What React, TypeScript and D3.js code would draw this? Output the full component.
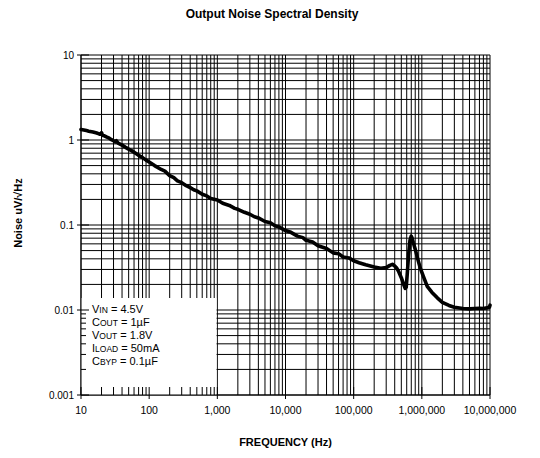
import React from "react";
import * as d3 from "d3";

const freqHz: number[] = [
  10, 11, 12, 13, 15, 17, 18, 19, 20, 20.5, 21, 22, 24, 26, 28, 30, 32, 33, 35, 38, 40, 45, 50, 55, 60, 65, 70, 80, 90,
  100, 120, 150, 170, 200, 230, 260, 300, 350, 400, 450, 500, 600, 700, 800, 1000, 1200, 1500, 1800, 2000, 2500,
  3000, 3500, 4000, 5000, 6000, 7000, 8000, 10000, 12000, 15000, 18000, 20000, 25000, 30000, 40000, 50000, 60000,
  70000, 85000, 100000, 120000, 150000, 200000, 250000, 300000, 340000, 370000, 400000, 430000, 460000, 500000,
  540000, 570000, 590000, 610000, 640000, 670000, 700000, 720000, 750000, 800000, 870000, 950000, 1050000,
  1200000, 1400000, 1700000, 2000000, 2500000, 3000000, 4000000, 5000000, 6000000, 7000000, 8000000, 9000000,
  9800000, 10000000,
];

const noiseUV: number[] = [
  1.33, 1.31, 1.29, 1.27, 1.24, 1.21, 1.19, 1.17, 1.22, 1.16, 1.13, 1.12, 1.08, 1.05, 1.01, 0.98, 0.95, 0.98, 0.92,
  0.89, 0.87, 0.82, 0.78, 0.75, 0.72, 0.69, 0.66, 0.62, 0.58,
  0.55, 0.5, 0.45, 0.43, 0.38, 0.36, 0.33, 0.315, 0.29, 0.275, 0.26, 0.252, 0.23, 0.22, 0.205, 0.197, 0.18,
  0.17, 0.157, 0.153, 0.141,
  0.134, 0.125, 0.121, 0.11, 0.106, 0.098, 0.095, 0.086, 0.082, 0.074, 0.071, 0.066, 0.063, 0.057, 0.053, 0.047,
  0.046, 0.042, 0.041, 0.038, 0.036, 0.034, 0.032, 0.031, 0.0315, 0.0335, 0.0345, 0.033, 0.031, 0.028, 0.024,
  0.02, 0.018, 0.0185, 0.026, 0.045, 0.066, 0.074, 0.07, 0.062, 0.052, 0.04, 0.031, 0.025,
  0.019, 0.0162, 0.0138, 0.0123, 0.0113, 0.0108, 0.0104, 0.0103, 0.0104, 0.0105, 0.0104, 0.0106,
  0.0108, 0.0114,
];

const xTickValues: number[] = [10, 100, 1000, 10000, 100000, 1000000, 10000000];
const xTickLabels: string[] = ["10", "100", "1,000", "10,000", "100,000", "1,000,000", "10,000,000"];
const yTickValues: number[] = [0.001, 0.01, 0.1, 1, 10];
const yTickLabels: string[] = ["0.001", "0.01", "0.1", "1", "10"];

const legendMain: string[] = ["V", "C", "V", "I", "C"];
const legendSub: string[] = ["IN", "OUT", "OUT", "LOAD", "BYP"];
const legendValue: string[] = [" = 4.5V", " = 1µF", " = 1.8V", " = 50mA", " = 0.1µF"];

const titleText = "Output Noise Spectral Density";
const xTitle = "FREQUENCY (Hz)";
const yTitle = "Noise uV/\u221AHz";

const W = 540;
const H = 458;
const L = 81;
const R = 490;
const T = 55;
const B = 395;
const FONT = "Arial, 'Liberation Sans', Helvetica, sans-serif";

export default function App() {
  const x = d3.scaleLog().domain([10, 1e7]).range([L, R]);
  const y = d3.scaleLog().domain([0.001, 10]).range([B, T]);

  const vGrid: number[] = [];
  for (let e = 1; e < 7; e++) for (let k = 1; k < 10; k++) vGrid.push(k * Math.pow(10, e));
  vGrid.push(1e7);
  const hGrid: number[] = [];
  for (let e = -3; e < 1; e++) for (let k = 1; k < 10; k++) hGrid.push(k * Math.pow(10, e));
  hGrid.push(10);

  const boxRight = x(1000);
  const boxTop = 298;

  const minorX = vGrid.filter((v) => v < 1000 && ![10, 100].includes(v));
  const minorY = hGrid.filter((v) => v < 0.01 && v > 0.001);

  const pts: [number, number][] = freqHz.map((f, i) => [f, noiseUV[i]]);
  const line = d3
    .line<[number, number]>()
    .x((d) => x(d[0]))
    .y((d) => y(d[1]));

  return (
    <svg width={W} height={H} style={{ position: "absolute", left: 0, top: 0, background: "#fff" }} fontFamily={FONT}>
      <text x={272} y={18} textAnchor="middle" fontSize={12} fontWeight="bold">
        {titleText}
      </text>
      {vGrid.map((v, i) => (
        <line key={"v" + i} x1={x(v)} x2={x(v)} y1={T} y2={B} stroke="#000" strokeWidth={1} />
      ))}
      {hGrid.map((v, i) => (
        <line key={"h" + i} x1={L} x2={R} y1={y(v)} y2={y(v)} stroke="#000" strokeWidth={1} />
      ))}
      <rect x={L} y={boxTop} width={boxRight - L - 0.8} height={B - boxTop} fill="#fff" />
      {minorX.map((v, i) => (
        <line key={"mx" + i} x1={x(v)} x2={x(v)} y1={B - 8} y2={B} stroke="#000" strokeWidth={1} />
      ))}
      {minorY.map((v, i) => (
        <line key={"my" + i} x1={L} x2={L + 5} y1={y(v)} y2={y(v)} stroke="#000" strokeWidth={1} />
      ))}
      <line x1={L} x2={L} y1={T} y2={B} stroke="#000" strokeWidth={1} />
      <line x1={L} x2={R} y1={B} y2={B} stroke="#000" strokeWidth={1} />
      {xTickValues.map((v, i) => (
        <g key={"xt" + i}>
          <line x1={x(v)} x2={x(v)} y1={B - 8} y2={B + 4} stroke="#000" strokeWidth={1} />
          <text x={x(v)} y={B + 19} textAnchor="middle" fontSize={10.5}>
            {xTickLabels[i]}
          </text>
        </g>
      ))}
      {yTickValues.map((v, i) => (
        <g key={"yt" + i}>
          <line x1={L - 4} x2={L + 8} y1={y(v)} y2={y(v)} stroke="#000" strokeWidth={1} />
          <text x={L - 7} y={y(v) + 3.5} textAnchor="end" fontSize={10}>
            {yTickLabels[i]}
          </text>
        </g>
      ))}
      {legendMain.map((m, i) => (
        <text key={"lg" + i} x={92} y={313 + i * 13} fontSize={11}>
          {m}
          <tspan fontSize={8.5}>{legendSub[i]}</tspan>
          {legendValue[i]}
        </text>
      ))}
      <path
        d={line(pts) || ""}
        fill="none"
        stroke="#000"
        strokeWidth={3.6}
        strokeLinejoin="round"
        strokeLinecap="round"
      />
      <text x={(L + R) / 2} y={446} textAnchor="middle" fontSize={11} fontWeight="bold">
        {xTitle}
      </text>
      <text
        transform={`translate(22, ${(T + B) / 2 - 12}) rotate(-90)`}
        textAnchor="middle"
        fontSize={11}
        fontWeight="bold"
      >
        {yTitle}
      </text>
    </svg>
  );
}
